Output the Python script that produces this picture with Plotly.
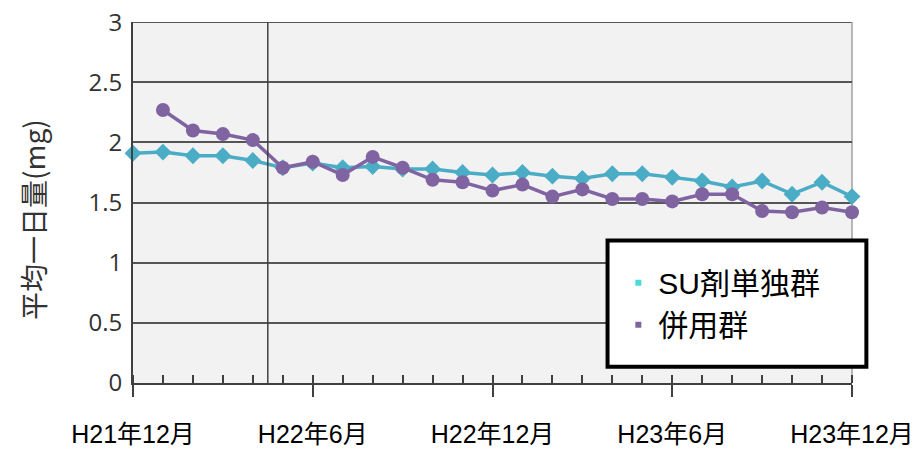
import plotly.graph_objects as go

# Months from H21年12月 to H23年12月
months = (["H21年12月"] + [f"H22年{m}月" for m in range(1, 13)] + [f"H23年{m}月" for m in range(1, 13)])
su_alone = [1.91, 1.92, 1.89, 1.89, 1.85, 1.79, 1.83, 1.79, 1.80, 1.78, 1.78, 1.75, 1.73,
            1.75, 1.72, 1.70, 1.74, 1.74, 1.71, 1.68, 1.63, 1.68, 1.57, 1.67, 1.55]
combo = [None, 2.27, 2.10, 2.07, 2.02, 1.79, 1.84, 1.73, 1.88, 1.79, 1.69, 1.67, 1.60,
         1.65, 1.55, 1.61, 1.53, 1.53, 1.51, 1.57, 1.57, 1.43, 1.42, 1.46, 1.42]
series_names = ["SU剤単独群", "併用群"]
tick_labels = months[::6]
y_ticks = [0, 0.5, 1, 1.5, 2, 2.5, 3]
y_tick_labels = ["0", "0.5", "1", "1.5", "2", "2.5", "3"]
marker_line_x = 4.5  # reference vertical line between H22年4月 and H22年5月

x = list(range(len(months)))
CYAN = "#4bacc6"
PURPLE = "#8064a2"
FONT = "Liberation Sans, Noto Sans CJK JP, sans-serif"

fig = go.Figure()
fig.add_trace(go.Scatter(x=x, y=su_alone, mode="lines+markers", name=series_names[0],
                         line=dict(color=CYAN, width=3.5),
                         marker=dict(symbol="diamond", size=13, color=CYAN),
                         cliponaxis=False, showlegend=False))
fig.add_trace(go.Scatter(x=x, y=combo, mode="lines+markers", name=series_names[1],
                         line=dict(color=PURPLE, width=3.5),
                         marker=dict(symbol="circle", size=14, color=PURPLE),
                         cliponaxis=False, showlegend=False))
# legend entries (square markers only)
fig.add_trace(go.Scatter(x=[None], y=[None], mode="markers", name=series_names[0],
                         marker=dict(symbol="square", size=6, color="#4dd9d9")))
fig.add_trace(go.Scatter(x=[None], y=[None], mode="markers", name=series_names[1],
                         marker=dict(symbol="square", size=6, color=PURPLE)))

fig.add_shape(type="line", xref="x", yref="y", x0=marker_line_x, x1=marker_line_x,
              y0=0, y1=3, line=dict(color="#404040", width=1.5))
# top border of plot area (at y = 3)
fig.add_shape(type="line", xref="paper", yref="y", x0=0, x1=1, y0=3, y1=3,
              line=dict(color="#555555", width=1.5), layer="below")
# right border of plot area
fig.add_shape(type="line", xref="paper", yref="paper", x0=1, x1=1, y0=0, y1=1,
              line=dict(color="#a0a0a0", width=1.5), layer="below")
# legend box
fig.add_shape(type="rect", xref="paper", yref="paper", x0=0.66, x1=1.02, y0=0.045, y1=0.395,
              line=dict(color="black", width=4), fillcolor="white", layer="above")

fig.update_layout(
    width=922, height=452,
    margin=dict(l=125, r=78, t=14, b=77),
    paper_bgcolor="white", plot_bgcolor="#f2f2f2",
    font=dict(family=FONT, color="black"),
    showlegend=True,
    legend=dict(x=0.675, y=0.35, xanchor="left", yanchor="top",
                bgcolor="rgba(0,0,0,0)", borderwidth=0,
                font=dict(size=30, family=FONT, color="black"),
                tracegroupgap=0, itemwidth=30),
    xaxis=dict(range=[0, 24], tickvals=x[::6], ticktext=tick_labels, automargin=False,
               showgrid=False, zeroline=False,
               showline=True, linecolor="#404040", linewidth=2,
               ticks="outside", ticklen=12, tickwidth=1.5, tickcolor="#404040",
               minor=dict(dtick=1, ticks="inside", ticklen=8, tickwidth=1.5, tickcolor="#404040", showgrid=False),
               tickfont=dict(size=25, family=FONT, color="black"),
               ticklabelstandoff=16),
    yaxis=dict(range=[0, 3.002], tickvals=y_ticks, ticktext=y_tick_labels, automargin=False,
               showgrid=True, gridcolor="#555555", gridwidth=1.5,
               zeroline=False, showline=True, linecolor="#404040", linewidth=2,
               ticks="", ticklabeloverflow="allow",
               tickfont=dict(size=24, family="Open Sans, Noto Sans CJK JP, sans-serif", color="#333333"),
               ticklabelstandoff=4),
)

fig.add_annotation(text="平均一日量(mg)", xref="paper", yref="paper", x=-0.139, y=0.452,
                   textangle=-90, showarrow=False, xanchor="center", yanchor="middle",
                   font=dict(size=28, family="Noto Sans CJK JP, sans-serif", color="#333333"))

fig.write_html("out.html")
